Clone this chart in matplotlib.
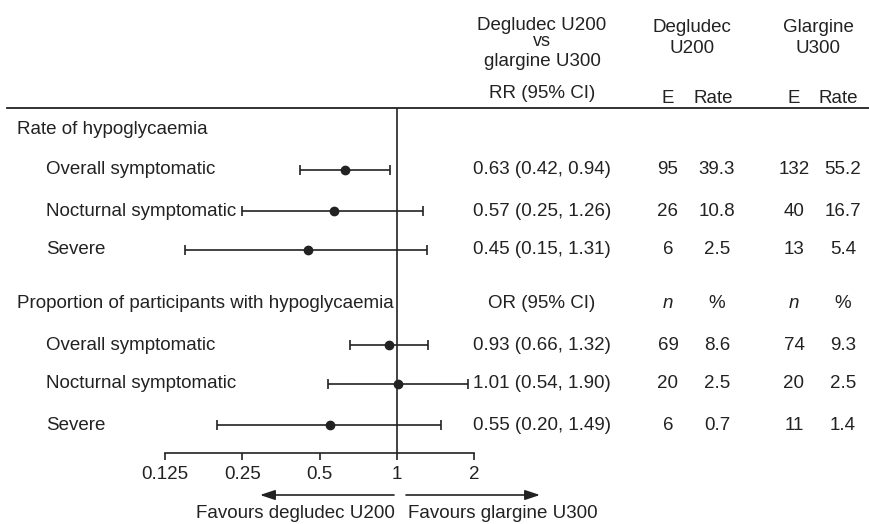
import matplotlib.pyplot as plt
import numpy as np

plt.rcParams['font.family'] = ['Liberation Sans', 'DejaVu Sans']

# data
groups = ["Rate of hypoglycaemia", "Proportion of participants with hypoglycaemia"]
outcomes = ["Overall symptomatic", "Nocturnal symptomatic", "Severe"]

rr_est = [0.63, 0.57, 0.45]
rr_lo = [0.42, 0.25, 0.15]
rr_hi = [0.94, 1.26, 1.31]
or_est = [0.93, 1.01, 0.55]
or_lo = [0.66, 0.54, 0.20]
or_hi = [1.32, 1.90, 1.49]

deg_events = ["95", "26", "6"]
deg_rate = ["39.3", "10.8", "2.5"]
gla_events = ["132", "40", "13"]
gla_rate = ["55.2", "16.7", "5.4"]

deg_n = ["69", "20", "6"]
deg_pct = ["8.6", "2.5", "0.7"]
gla_n = ["74", "20", "11"]
gla_pct = ["9.3", "2.5", "1.4"]

xticks = [0.125, 0.25, 0.5, 1, 2]
xticklabels = ["0.125", "0.25", "0.5", "1", "2"]

W, H = 870, 524
FS = 13.5
INK = '#222222'

# layout (pixel rows, top-down)
header_y = [130, 303]
row_y = [[170, 211, 250], [345, 384, 425]]
axis_y = 452.7
rule_y = 108
col_ci, col_de, col_dr, col_ge, col_gr = 542, 668, 717, 794, 843

fig = plt.figure(figsize=(W / 100, H / 100), dpi=100)

# overlay axes in pixel coordinates for the table text
ov = fig.add_axes([0, 0, 1, 1])
ov.set_xlim(0, W)
ov.set_ylim(H, 0)
ov.axis('off')

# forest axes, log2 x-scale
x0, x1 = 165, 474
ax = fig.add_axes([x0 / W, (H - axis_y) / H, (x1 - x0) / W, (axis_y - rule_y) / H])
ax.set_xscale('log', base=2)
ax.set_xlim(0.125, 2)
ax.set_ylim(axis_y, rule_y)
ax.patch.set_alpha(0)
for s in ['top', 'right', 'left']:
    ax.spines[s].set_visible(False)
ax.spines['bottom'].set_color(INK)
ax.spines['bottom'].set_linewidth(1.2)
ax.set_yticks([])
ax.set_xticks(xticks)
ax.set_xticklabels(xticklabels, fontsize=FS)
ax.minorticks_off()
ax.tick_params(axis='x', direction='out', length=5, width=1.2, color=INK,
               labelcolor=INK, pad=4.5)
ax.axvline(1, color=INK, lw=1.2)

ests = [rr_est, or_est]
los = [rr_lo, or_lo]
his = [rr_hi, or_hi]
for g in range(2):
    est = np.array(ests[g])
    lo = np.array(los[g])
    hi = np.array(his[g])
    ax.errorbar(est, row_y[g], xerr=[est - lo, hi - est], fmt='o', color=INK,
                ms=6, capsize=3.5, elinewidth=1.2, capthick=1.2, clip_on=False)

# horizontal rule under the header
ov.plot([7, W], [rule_y, rule_y], color=INK, lw=1.3)

# column headers
txt = dict(fontsize=FS, color=INK)
ov.text(col_ci, 30.5, "Degludec U200", ha='center', va='baseline', **txt)
ov.text(col_ci, 46, "vs", ha='center', va='baseline', fontsize=FS - 0.5, color=INK)
ov.text(col_ci, 65.5, "glargine U300", ha='center', va='baseline', **txt)
ov.text(col_ci, 98, "RR (95% CI)", ha='center', va='baseline', **txt)
ov.text(692, 31.5, "Degludec", ha='center', va='baseline', **txt)
ov.text(692, 53, "U200", ha='center', va='baseline', **txt)
ov.text(818, 31.5, "Glargine", ha='center', va='baseline', **txt)
ov.text(818, 53, "U300", ha='center', va='baseline', **txt)
for cx, lab in [(col_de, "E"), (713, "Rate"), (col_ge, "E"), (838, "Rate")]:
    ov.text(cx, 102.7, lab, ha='center', va='baseline', **txt)

# group headers
ov.text(17, header_y[0], groups[0], ha='left', va='center', **txt)
ov.text(17, header_y[1], groups[1], ha='left', va='center', **txt)
ov.text(col_ci, header_y[1], "OR (95% CI)", ha='center', va='center', **txt)
for cx, lab in [(col_de, "n"), (col_dr, "%"), (col_ge, "n"), (col_gr, "%")]:
    ov.text(cx, header_y[1], lab, ha='center', va='center',
            style='italic' if lab == "n" else 'normal', **txt)

cols = [[deg_events, deg_rate, gla_events, gla_rate], [deg_n, deg_pct, gla_n, gla_pct]]
for g in range(2):
    for i, name in enumerate(outcomes):
        y = row_y[g][i]
        ov.text(46, y, name, ha='left', va='center', **txt)
        ci = f"{ests[g][i]:.2f} ({los[g][i]:.2f}, {his[g][i]:.2f})"
        ov.text(col_ci, y, ci, ha='center', va='center', **txt)
        for cx, vals in zip([col_de, col_dr, col_ge, col_gr], cols[g]):
            ov.text(cx, y, vals[i], ha='center', va='center', **txt)

# direction arrows
arrow = dict(arrowstyle='-|>,head_length=0.9,head_width=0.3', color=INK, lw=1.2,
             shrinkA=0, shrinkB=0, mutation_scale=10)
ov.annotate("", xy=(260, 495), xytext=(394, 495), arrowprops=arrow)
ov.annotate("", xy=(540, 495), xytext=(406, 495), arrowprops=arrow)
ov.text(395, 513, "Favours degludec U200", ha='right', va='center', **txt)
ov.text(408, 513, "Favours glargine U300", ha='left', va='center', **txt)

fig.savefig("out.png", dpi=100)
